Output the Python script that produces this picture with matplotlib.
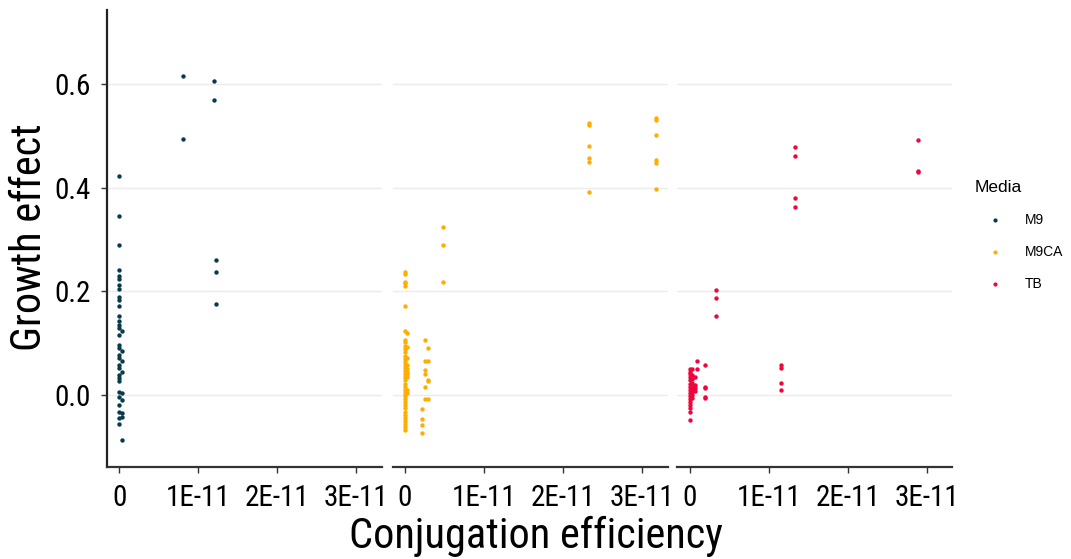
import matplotlib
matplotlib.use("Agg")
import matplotlib.pyplot as plt
from matplotlib import font_manager
from matplotlib.lines import Line2D

# pick a narrow face if one is installed
names = set(f.name for f in font_manager.fontManager.ttflist)
narrow = "DejaVu Sans"
for cand in ["Roboto Condensed", "Liberation Sans Narrow", "DejaVu Sans Condensed", "Open Sans Condensed"]:
    if cand in names:
        narrow = cand
        break

media = ["M9", "M9CA", "TB"]
colors = ["#073b4c", "#ffad00", "#f0063c"]

# M9: x positions of point clusters and their growth effects
m9_x = [0.0, 0.03e-11, 0.81e-11, 1.20e-11, 1.22e-11]
m9_y = [
    [0.423, 0.346, 0.289, 0.241, 0.229, 0.223, 0.213, 0.205, 0.190, 0.184, 0.172, 0.152,
     0.142, 0.135, 0.129, 0.116, 0.097, 0.090, 0.077, 0.071, 0.058, 0.052, 0.039, 0.032,
     0.026, 0.006, -0.003, -0.019, -0.032, -0.045, -0.056],
    [0.123, 0.084, 0.065, 0.045, 0.003, -0.010, -0.035, -0.042, -0.086],
    [0.616, 0.494],
    [0.606, 0.569],
    [0.260, 0.237, 0.176],
]

# M9CA
m9ca_x = [0.0, 0.03e-11, 0.215e-11, 0.252e-11, 0.29e-11, 0.485e-11, 2.333e-11, 3.17e-11]
m9ca_y = [
    [0.238, 0.233, 0.219, 0.216, 0.210, 0.172, 0.124, 0.106, 0.103, 0.095, 0.088, 0.082,
     0.076, 0.070, 0.064, 0.058, 0.052, 0.046, 0.040, 0.034, 0.028, 0.022, 0.016, 0.010,
     0.004, -0.002, -0.008, -0.014, -0.020, -0.026, -0.032, -0.038, -0.044, -0.050,
     -0.056, -0.062, -0.068],
    [0.119, 0.092, 0.072, 0.058, 0.050, 0.045, 0.040, 0.035, 0.010, 0.004],
    [-0.028, -0.046, -0.057, -0.073],
    [0.106, 0.066, 0.048, 0.041, 0.015, -0.008],
    [0.090, 0.066, 0.029, 0.026, -0.008],
    [0.325, 0.290, 0.219],
    [0.525, 0.522, 0.481, 0.457, 0.449, 0.391],
    [0.535, 0.531, 0.501, 0.453, 0.447, 0.398],
]

# TB
tb_x = [0.0, 0.03e-11, 0.07e-11, 0.097e-11, 0.19e-11, 0.33e-11, 1.16e-11, 1.33e-11, 2.89e-11]
tb_y = [
    [0.050, 0.045, 0.040, 0.034, 0.028, 0.022, 0.016, 0.010, 0.004, -0.002, -0.008,
     -0.014, -0.020, -0.026, -0.033, -0.048],
    [0.050, 0.038, 0.030, 0.024, 0.018, 0.012, 0.006, 0.000, -0.006],
    [0.034, 0.020, 0.014, 0.008],
    [0.066, 0.050],
    [0.058, 0.016, 0.014, -0.004, -0.006],
    [0.203, 0.187, 0.152],
    [0.058, 0.052, 0.024, 0.010],
    [0.478, 0.461, 0.380, 0.363],
    [0.493, 0.432, 0.430],
]

xticks = [0, 1e-11, 2e-11, 3e-11]
xticklabels = ["0", "1E-11", "2E-11", "3E-11"]
yticks = [0.0, 0.2, 0.4, 0.6]
yticklabels = ["0.0", "0.2", "0.4", "0.6"]

groups = [(m9_x, m9_y), (m9ca_x, m9ca_y), (tb_x, tb_y)]

fig = plt.figure(figsize=(10.71, 5.59), dpi=100)
lefts = [0.0999, 0.3667, 0.6324]
for i, (gx, gy) in enumerate(groups):
    ax = fig.add_axes([lefts[i], 0.1646, 0.2568, 0.8175])
    xs, ys = [], []
    for xv, yl in zip(gx, gy):
        xs += [xv] * len(yl)
        ys += yl
    ax.scatter(xs, ys, s=10, color=colors[i], linewidths=0, zorder=3)
    ax.set_xlim(-1.56e-12, 3.325e-11)
    ax.set_ylim(-0.139, 0.743)
    ax.set_yticks(yticks)
    ax.grid(axis="y", color="#ebebeb", linewidth=1, zorder=0)
    ax.set_axisbelow(True)
    ax.set_xticks(xticks)
    ax.set_xticklabels(xticklabels, fontsize=21, family=narrow)
    for s in ["top", "right"]:
        ax.spines[s].set_visible(False)
    ax.spines["bottom"].set_color("#333333")
    ax.spines["bottom"].set_linewidth(1.6)
    ax.tick_params(axis="x", length=4, width=1, color="#333333", pad=8)
    if i == 0:
        ax.set_yticklabels(yticklabels, fontsize=21, family=narrow)
        ax.spines["left"].set_color("#222222")
        ax.spines["left"].set_linewidth(1.6)
        ax.tick_params(axis="y", length=4, width=1, color="#333333", pad=8)
    else:
        ax.spines["left"].set_visible(False)
        ax.tick_params(axis="y", left=False, labelleft=False)

fig.text(0.028, 0.575, "Growth effect", rotation=90, ha="center", va="center",
         fontsize=30.5, family=narrow)
fig.text(0.50, 0.04, "Conjugation efficiency", ha="center", va="center",
         fontsize=30.5, family=narrow)

handles = [Line2D([], [], marker="o", linestyle="", markersize=3, color=c,
                  markeredgewidth=0) for c in colors]
leg = fig.legend(handles, media, title="Media", loc="center left",
                 bbox_to_anchor=(0.910, 0.578), frameon=False,
                 prop={"family": "Liberation Sans", "size": 10},
                 title_fontproperties={"family": "Liberation Sans", "size": 12.5},
                 labelspacing=1.3, handlelength=3.0, handletextpad=0.6,
                 borderaxespad=0, borderpad=0)
leg._legend_box.align = "left"

fig.savefig("out.png", dpi=100)
